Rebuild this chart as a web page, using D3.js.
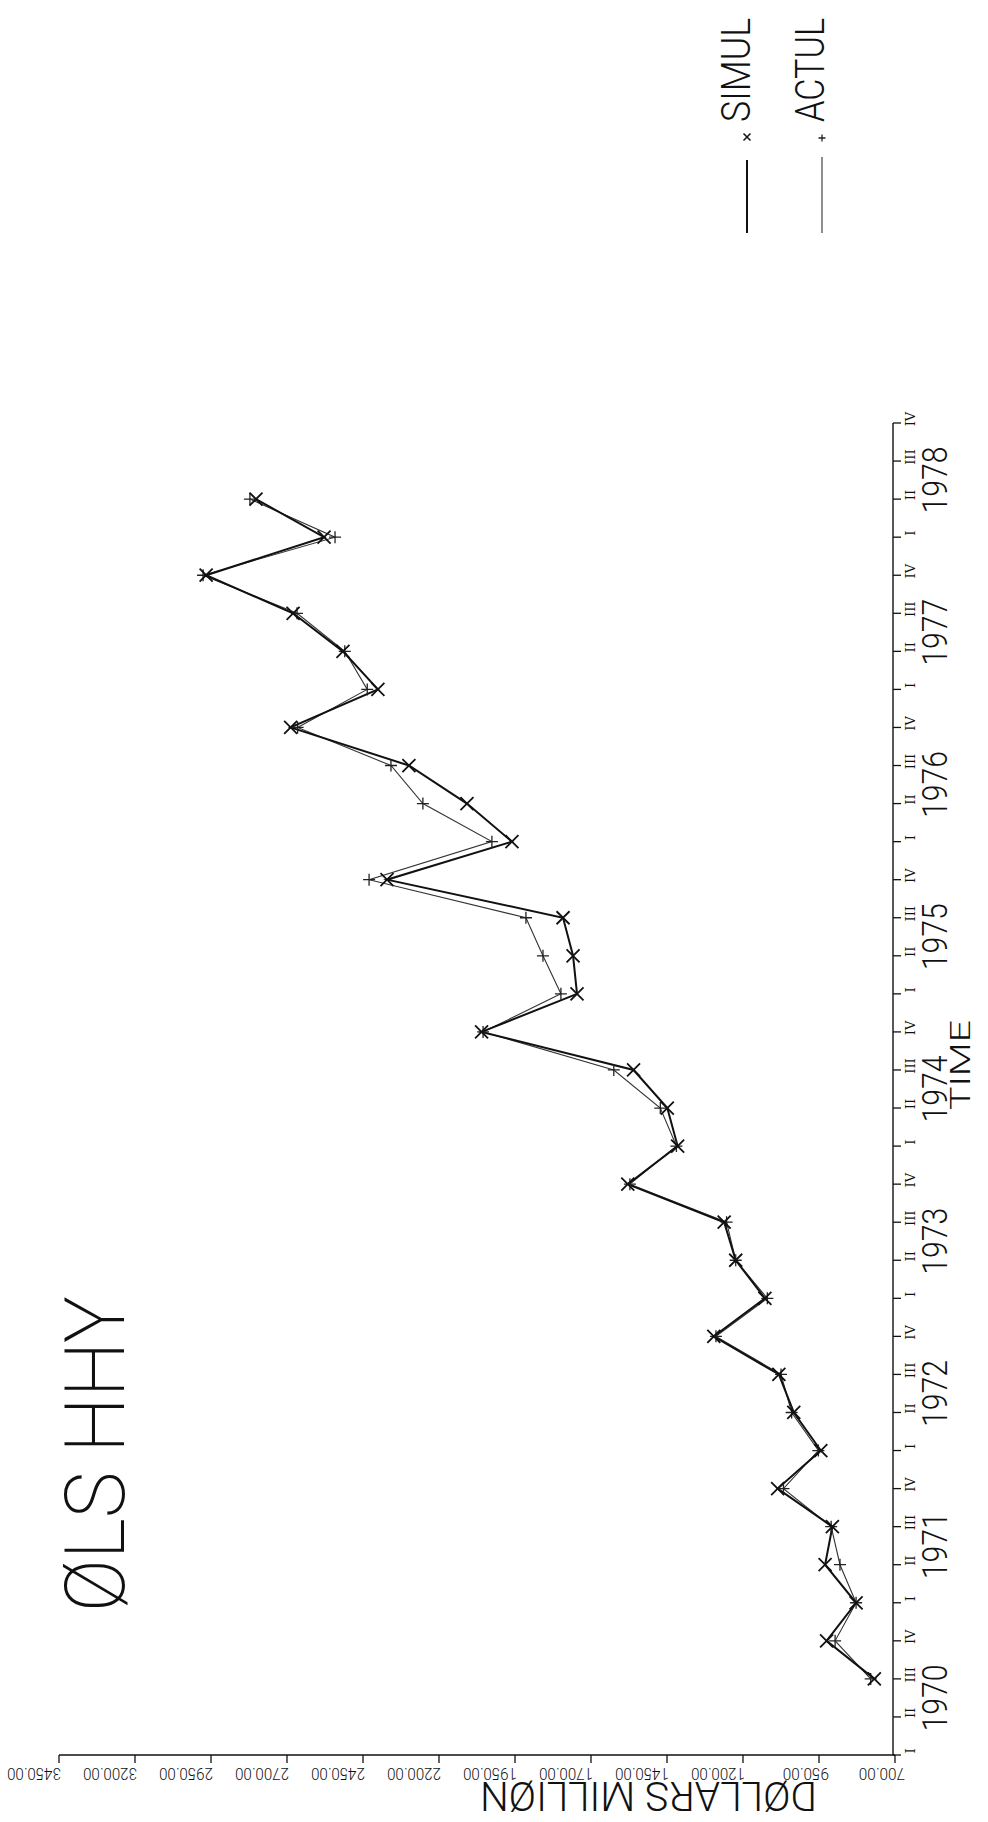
<!DOCTYPE html>
<html>
<head>
<meta charset="utf-8">
<script src="https://cdn.jsdelivr.net/npm/d3@7"></script>
<style>
  html, body { margin: 0; padding: 0; background: #fff; }
  svg { display: block; }
  text { fill: #111; }
</style>
</head>
<body>
<script>
// Quarterly periods plotted (1970 III .. 1978 II)
const periods = [
  "1970Q3","1970Q4",
  "1971Q1","1971Q2","1971Q3","1971Q4",
  "1972Q1","1972Q2","1972Q3","1972Q4",
  "1973Q1","1973Q2","1973Q3","1973Q4",
  "1974Q1","1974Q2","1974Q3","1974Q4",
  "1975Q1","1975Q2","1975Q3","1975Q4",
  "1976Q1","1976Q2","1976Q3","1976Q4",
  "1977Q1","1977Q2","1977Q3","1977Q4",
  "1978Q1","1978Q2"
];
// Simulated series (dollars, million)
const simul = [768, 925, 828, 930, 906, 1086, 944, 1033, 1082, 1296, 1128, 1224, 1262, 1579, 1415, 1449,
               1560, 2060, 1746, 1759, 1792, 2371, 1960, 2108, 2299, 2688, 2401, 2516, 2680, 2966, 2578, 2802];
// Actual series (dollars, million)
const actul = [780, 897, 828, 881, 910, 1067, 952, 1040, 1075, 1289, 1120, 1224, 1254, 1572, 1419, 1472,
               1625, 2055, 1799, 1858, 1914, 2430, 2026, 2253, 2358, 2665, 2436, 2510, 2667, 2976, 2542, 2822];
// Axis labels
const years = [1970, 1971, 1972, 1973, 1974, 1975, 1976, 1977, 1978];
const quarterNames = ["I", "II", "III", "IV"];
const valueTicks = [700, 950, 1200, 1450, 1700, 1950, 2200, 2450, 2700, 2950, 3200, 3450];

const W = 988, H = 1822;
const svg = d3.select("body").append("svg").attr("width", W).attr("height", H);
svg.append("rect").attr("width", W).attr("height", H).attr("fill", "#fff");

// The plot is drawn turned a quarter: time runs upward, value increases leftward.
const firstYear = years[0];
const qIndex = p => (+p.slice(0, 4) - firstYear) * 4 + (+p.slice(5) - 1);
const nQuarters = years.length * 4;

const x = d3.scaleLinear().domain([700, 3450]).range([895, 59]);
const y = d3.scaleLinear().domain([0, nQuarters - 1]).range([1755, 423]);

const axisY = y(0), axisX = x(700);
const font = "'Roboto', 'DejaVu Sans', sans-serif";

// Value axis (bottom, labels upside down)
const gv = svg.append("g");
gv.append("line").attr("x1", x(3450)).attr("x2", x(700)).attr("y1", axisY).attr("y2", axisY)
  .attr("stroke", "#111").attr("stroke-width", 1.4);
valueTicks.forEach(v => {
  gv.append("line").attr("x1", x(v)).attr("x2", x(v)).attr("y1", axisY).attr("y2", axisY + 8)
    .attr("stroke", "#111").attr("stroke-width", 1.3);
  const s = v.toFixed(2);
  const right = x(v) + 2 + (7 - s.length) * 8;
  gv.append("text")
    .attr("transform", `translate(${right},${axisY + 13}) rotate(180)`)
    .attr("text-anchor", "start")
    .attr("font-family", font).attr("font-weight", 300)
    .attr("font-size", 16)
    .attr("textLength", s.length * 7.7).attr("lengthAdjust", "spacingAndGlyphs")
    .text(s);
});
svg.append("text")
  .attr("transform", `translate(817,1782) rotate(180)`)
  .attr("text-anchor", "start")
  .attr("font-family", font).attr("font-weight", 300)
  .attr("font-size", 40)
  .attr("textLength", 337).attr("lengthAdjust", "spacingAndGlyphs")
  .text("DØLLARS MILLIØN");

// Time axis (right side)
const gt = svg.append("g");
gt.append("line").attr("x1", axisX - 2).attr("x2", axisX - 2).attr("y1", y(0)).attr("y2", y(nQuarters - 1))
  .attr("stroke", "#111").attr("stroke-width", 1.4);
d3.range(nQuarters).forEach(i => {
  const yy = y(i);
  gt.append("line").attr("x1", axisX - 2).attr("x2", axisX + 6).attr("y1", yy).attr("y2", yy)
    .attr("stroke", "#111").attr("stroke-width", 1.3);
  gt.append("text")
    .attr("transform", `translate(915,${yy - 4}) rotate(-90)`)
    .attr("text-anchor", "middle")
    .attr("font-family", "'DejaVu Serif', serif")
    .attr("font-size", 13)
    .text(quarterNames[i % 4]);
});
years.forEach((yr, k) => {
  const yc = (y(k * 4) + y(k * 4 + 3)) / 2;
  gt.append("text")
    .attr("transform", `translate(947,${yc}) rotate(-90)`)
    .attr("text-anchor", "middle")
    .attr("font-family", font).attr("font-weight", 300)
    .attr("font-size", 35)
    .attr("textLength", 67).attr("lengthAdjust", "spacingAndGlyphs")
    .text(yr);
});
svg.append("text")
  .attr("transform", `translate(970,1065) rotate(-90)`)
  .attr("text-anchor", "middle")
  .attr("font-family", font).attr("font-weight", 300)
  .attr("font-size", 28)
  .attr("textLength", 90).attr("lengthAdjust", "spacingAndGlyphs")
  .text("TIME");

// Title
svg.append("text")
  .attr("transform", `translate(124,1612) rotate(-90)`)
  .attr("text-anchor", "start")
  .attr("font-family", font).attr("font-weight", 200)
  .attr("font-size", 84)
  .attr("textLength", 316).attr("lengthAdjust", "spacingAndGlyphs")
  .text("ØLS HHY");

// Series
const line = d3.line().x(d => x(d.v)).y(d => y(d.i));
const simulPts = periods.map((p, k) => ({ i: qIndex(p), v: simul[k] }));
const actulPts = periods.map((p, k) => ({ i: qIndex(p), v: actul[k] }));

svg.append("path").datum(actulPts).attr("d", line)
  .attr("fill", "none").attr("stroke", "#333").attr("stroke-width", 1.1);
svg.append("path").datum(simulPts).attr("d", line)
  .attr("fill", "none").attr("stroke", "#111").attr("stroke-width", 2);

const cross = (g, cx, cy, r, w) => g.append("path")
  .attr("d", `M${cx - r},${cy - r}L${cx + r},${cy + r}M${cx - r},${cy + r}L${cx + r},${cy - r}`)
  .attr("stroke", "#111").attr("stroke-width", w).attr("fill", "none");
const plus = (g, cx, cy, r, w) => g.append("path")
  .attr("d", `M${cx - r},${cy}L${cx + r},${cy}M${cx},${cy - r}L${cx},${cy + r}`)
  .attr("stroke", "#222").attr("stroke-width", w).attr("fill", "none");

const gm = svg.append("g");
actulPts.forEach(d => plus(gm, x(d.v), y(d.i), 6, 1.3));
simulPts.forEach(d => cross(gm, x(d.v), y(d.i), 6.5, 1.8));

// Legend
const gl = svg.append("g");
gl.append("line").attr("x1", 747).attr("x2", 747).attr("y1", 160).attr("y2", 233)
  .attr("stroke", "#111").attr("stroke-width", 2);
cross(gl, 747, 137, 3.5, 1.5);
gl.append("text")
  .attr("transform", `translate(750,122) rotate(-90)`)
  .attr("text-anchor", "start")
  .attr("font-family", font).attr("font-weight", 300)
  .attr("font-size", 40)
  .attr("textLength", 104).attr("lengthAdjust", "spacingAndGlyphs")
  .text("SIMUL");
gl.append("line").attr("x1", 822).attr("x2", 822).attr("y1", 157).attr("y2", 233)
  .attr("stroke", "#333").attr("stroke-width", 1.1);
plus(gl, 822, 138, 3.5, 1.3);
gl.append("text")
  .attr("transform", `translate(824,122) rotate(-90)`)
  .attr("text-anchor", "start")
  .attr("font-family", font).attr("font-weight", 300)
  .attr("font-size", 40)
  .attr("textLength", 104).attr("lengthAdjust", "spacingAndGlyphs")
  .text("ACTUL");
</script>
</body>
</html>
